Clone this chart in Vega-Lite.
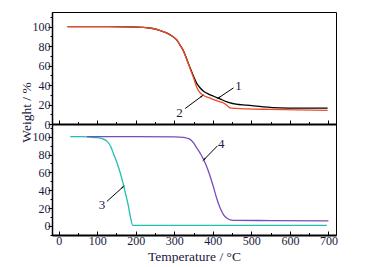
{
  "$schema": "https://vega.github.io/schema/vega-lite/v6.json",
  "padding": {"left": 18, "top": 11, "right": 5, "bottom": 0},
  "spacing": 0,
  "bounds": "flush",
  "config": {
    "font": "Liberation Serif",
    "view": {"stroke": "black", "strokeWidth": 1},
    "axis": {"labelFont": "Liberation Serif", "titleFont": "Liberation Serif", "labelFontSize": 12, "titleFontSize": 13.5, "titleFontWeight": "normal", "labelColor": "#1a1a40", "titleColor": "#1a1a40", "domainColor": "black", "tickColor": "black", "grid": false}
  },
  "datasets": {
    "tga": [
      {"s":"1","T":23,"W":100},{"s":"1","T":100,"W":100},{"s":"1","T":180,"W":99.8},{"s":"1","T":220,"W":99.2},{"s":"1","T":240,"W":98.3},{"s":"1","T":260,"W":96.5},{"s":"1","T":280,"W":93.5},{"s":"1","T":295,"W":90},{"s":"1","T":307,"W":86},{"s":"1","T":315,"W":81},{"s":"1","T":324,"W":75},{"s":"1","T":333,"W":66},{"s":"1","T":341,"W":57.7},{"s":"1","T":350,"W":49},{"s":"1","T":358,"W":42},{"s":"1","T":365,"W":38},{"s":"1","T":376,"W":33.7},{"s":"1","T":390,"W":30.5},{"s":"1","T":402,"W":28.5},{"s":"1","T":420,"W":25.5},{"s":"1","T":435,"W":23},{"s":"1","T":445,"W":21.6},{"s":"1","T":460,"W":20.3},{"s":"1","T":488,"W":19.3},{"s":"1","T":531,"W":17.5},{"s":"1","T":574,"W":16.5},{"s":"1","T":620,"W":16.3},{"s":"1","T":698,"W":16.3},
      {"s":"2","T":23,"W":100},{"s":"2","T":100,"W":100},{"s":"2","T":180,"W":99.8},{"s":"2","T":220,"W":99.2},{"s":"2","T":240,"W":98.3},{"s":"2","T":260,"W":96.5},{"s":"2","T":280,"W":93.5},{"s":"2","T":295,"W":90},{"s":"2","T":307,"W":86},{"s":"2","T":315,"W":81},{"s":"2","T":324,"W":74.5},{"s":"2","T":333,"W":65.5},{"s":"2","T":341,"W":57},{"s":"2","T":350,"W":47.5},{"s":"2","T":358,"W":38},{"s":"2","T":365,"W":33},{"s":"2","T":376,"W":29.3},{"s":"2","T":390,"W":27},{"s":"2","T":402,"W":25},{"s":"2","T":415,"W":23.3},{"s":"2","T":428,"W":21.6},{"s":"2","T":437,"W":19},{"s":"2","T":445,"W":16.5},{"s":"2","T":460,"W":16},{"s":"2","T":488,"W":15.5},{"s":"2","T":550,"W":15},{"s":"2","T":620,"W":14.5},{"s":"2","T":698,"W":14},
      {"s":"3","T":30,"W":100},{"s":"3","T":60,"W":100},{"s":"3","T":80,"W":99.5},{"s":"3","T":99,"W":99},{"s":"3","T":115,"W":97.5},{"s":"3","T":125,"W":95},{"s":"3","T":135,"W":89},{"s":"3","T":143,"W":80},{"s":"3","T":152,"W":70},{"s":"3","T":160,"W":59},{"s":"3","T":167,"W":48},{"s":"3","T":173,"W":37},{"s":"3","T":180,"W":24},{"s":"3","T":186,"W":10.5},{"s":"3","T":192,"W":0.6},{"s":"3","T":250,"W":0.6},{"s":"3","T":400,"W":0.6},{"s":"3","T":696,"W":0.6},
      {"s":"4","T":73,"W":100},{"s":"4","T":200,"W":100},{"s":"4","T":300,"W":99.7},{"s":"4","T":324,"W":99.3},{"s":"4","T":335,"W":98},{"s":"4","T":341,"W":97},{"s":"4","T":350,"W":93},{"s":"4","T":358,"W":87.6},{"s":"4","T":367,"W":81.5},{"s":"4","T":376,"W":74.5},{"s":"4","T":385,"W":65.5},{"s":"4","T":393,"W":55.6},{"s":"4","T":402,"W":43},{"s":"4","T":410,"W":31},{"s":"4","T":419,"W":20},{"s":"4","T":428,"W":12.4},{"s":"4","T":437,"W":8.5},{"s":"4","T":445,"W":6.8},{"s":"4","T":460,"W":6.2},{"s":"4","T":550,"W":6},{"s":"4","T":700,"W":5.6}
    ],
    "arrows": [
      {"s":"1","T":453.7,"W":37.1,"T2":414.8,"W2":26.8},
      {"s":"2","T":328.2,"W":15.9,"T2":371.5,"W2":28.6},
      {"s":"3","T":125,"W":27.4,"T2":166.7,"W2":43.6},
      {"s":"4","T":412,"W":89.7,"T2":377.6,"W2":74.5}
    ],
    "labels": [
      {"s":"1","T":466.7,"W":38.9,"label":"1"},
      {"s":"2","T":313.7,"W":11.3,"label":"2"},
      {"s":"3","T":112.4,"W":23.7,"label":"3"},
      {"s":"4","T":421.6,"W":91.4,"label":"4"}
    ]
  },
  "vconcat": [
    {
      "width": 284,
      "height": 112,
      "encoding": {
        "x": {"field": "T", "type": "quantitative", "scale": {"domain": [-17.4, 719.7], "nice": false, "zero": false},
          "axis": {"orient": "bottom", "labels": false, "title": null, "values": [0,50,100,150,200,250,300,350,400,450,500,550,600,650,700], "tickSize": {"condition": {"test": "datum.value % 100 === 0", "value": -4}, "value": -2.5}, "domainWidth": 2}},
        "y": {"field": "W", "type": "quantitative", "scale": {"domain": [0, 115], "nice": false, "zero": false},
          "axis": {"values": [0,10,20,30,40,50,60,70,80,90,100,110], "labelExpr": "datum.value % 20 === 0 ? datum.label : ''", "tickSize": {"condition": {"test": "datum.value % 20 === 0", "value": 4}, "value": 2}, "domainWidth": 1.5, "labelPadding": -2, "title": "Weight / %", "titleAngle": 270, "titleBaseline": "bottom", "titleX": -19, "titleY": 100}}
      },
      "layer": [
        {"data": {"name": "tga"}, "transform": [{"filter": "datum.s === '1' || datum.s === '2'"}],
          "mark": {"type": "line", "strokeWidth": 1.3, "interpolate": "monotone"},
          "encoding": {"color": {"field": "s", "type": "nominal", "scale": {"domain": ["1","2","3","4"], "range": ["#000000", "#f04a24", "#1fbfb0", "#7a4cb8"]}, "legend": null}}},
        {"data": {"name": "arrows"}, "transform": [{"filter": "datum.s === '1' || datum.s === '2'"}],
          "mark": {"type": "rule", "color": "black", "strokeWidth": 1},
          "encoding": {"x2": {"field": "T2"}, "y2": {"field": "W2"}}},
        {"data": {"name": "arrows"}, "transform": [{"filter": "datum.s === '1'"}],
          "mark": {"type": "point", "shape": "wedge", "filled": true, "color": "black", "size": 30, "angle": 233, "opacity": 1},
          "encoding": {"x": {"field": "T2", "type": "quantitative"}, "y": {"field": "W2", "type": "quantitative"}}},
        {"data": {"name": "arrows"}, "transform": [{"filter": "datum.s === '2'"}],
          "mark": {"type": "point", "shape": "wedge", "filled": true, "color": "black", "size": 30, "angle": 52, "opacity": 1},
          "encoding": {"x": {"field": "T2", "type": "quantitative"}, "y": {"field": "W2", "type": "quantitative"}}},
        {"data": {"name": "labels"}, "transform": [{"filter": "datum.s === '1' || datum.s === '2'"}],
          "mark": {"type": "text", "font": "Liberation Serif", "fontSize": 13, "color": "#1a1a40"},
          "encoding": {"text": {"field": "label"}}}
      ]
    },
    {
      "width": 284,
      "height": 111,
      "encoding": {
        "x": {"field": "T", "type": "quantitative", "scale": {"domain": [-17.4, 719.7], "nice": false, "zero": false},
          "axis": {"orient": "bottom", "values": [0,50,100,150,200,250,300,350,400,450,500,550,600,650,700], "labelExpr": "datum.value % 100 === 0 ? datum.label : ''", "tickSize": {"condition": {"test": "datum.value % 100 === 0", "value": -4}, "value": -2.5}, "domainWidth": 2, "labelPadding": 4, "title": "Temperature / °C", "titlePadding": 3}},
        "y": {"field": "W", "type": "quantitative", "scale": {"domain": [-10.2, 114.2], "nice": false, "zero": false},
          "axis": {"values": [-10,0,10,20,30,40,50,60,70,80,90,100,110], "labelExpr": "datum.value % 20 === 0 ? datum.label : ''", "tickSize": {"condition": {"test": "datum.value % 20 === 0", "value": 4}, "value": 2}, "domainWidth": 1.5, "labelPadding": -2, "title": null}}
      },
      "layer": [
        {"data": {"name": "tga"}, "transform": [{"filter": "datum.s === '3' || datum.s === '4'"}],
          "mark": {"type": "line", "strokeWidth": 1.3, "interpolate": "monotone"},
          "encoding": {"color": {"field": "s", "type": "nominal", "scale": {"domain": ["1","2","3","4"], "range": ["#000000", "#f04a24", "#1fbfb0", "#7a4cb8"]}, "legend": null}}},
        {"data": {"name": "arrows"}, "transform": [{"filter": "datum.s === '3' || datum.s === '4'"}],
          "mark": {"type": "rule", "color": "black", "strokeWidth": 1},
          "encoding": {"x2": {"field": "T2"}, "y2": {"field": "W2"}}},
        {"data": {"name": "arrows"}, "transform": [{"filter": "datum.s === '3'"}],
          "mark": {"type": "point", "shape": "wedge", "filled": true, "color": "black", "size": 30, "angle": 48, "opacity": 1},
          "encoding": {"x": {"field": "T2", "type": "quantitative"}, "y": {"field": "W2", "type": "quantitative"}}},
        {"data": {"name": "arrows"}, "transform": [{"filter": "datum.s === '4'"}],
          "mark": {"type": "point", "shape": "wedge", "filled": true, "color": "black", "size": 30, "angle": 225, "opacity": 1},
          "encoding": {"x": {"field": "T2", "type": "quantitative"}, "y": {"field": "W2", "type": "quantitative"}}},
        {"data": {"name": "labels"}, "transform": [{"filter": "datum.s === '3' || datum.s === '4'"}],
          "mark": {"type": "text", "font": "Liberation Serif", "fontSize": 13, "color": "#1a1a40"},
          "encoding": {"text": {"field": "label"}}}
      ]
    }
  ]
}
